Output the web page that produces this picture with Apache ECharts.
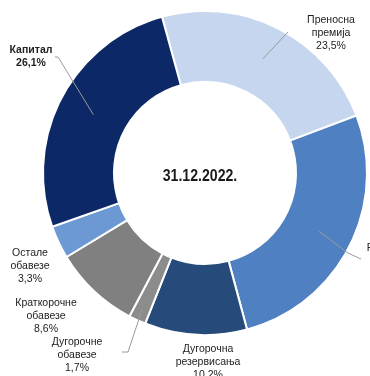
<!DOCTYPE html>
<html>
<head>
<meta charset="utf-8">
<script src="https://cdn.jsdelivr.net/npm/echarts@6/dist/echarts.min.js"></script>
<style>
  html, body { margin: 0; padding: 0; background: #fff; }
  #chart { width: 370px; height: 376px; }
</style>
</head>
<body>
<div id="chart"></div>
<script>
// Balance-sheet liabilities structure, shares in percent
const categories = [
  'Преносна\nпремија',
  'Резервисане\nштете',
  'Дугорочна\nрезервисања',
  'Дугорочне\nобавезе',
  'Краткорочне\nобавезе',
  'Остале\nобавезе',
  'Капитал'
];
const shares = [23.5, 26.6, 10.2, 1.7, 8.6, 3.3, 26.1];
const centerTitle = '31.12.2022.';

const colors = ['#c6d6ee', '#4f80c1', '#264b7b', '#8c8c8c', '#808080', '#6c99d4', '#0d2867'];

const CX = 205, CY = 173, R_IN = 91, R_OUT = 162;
const START = 105.4;
const FONT = '"Liberation Sans Narrow", "Liberation Sans", Arial, sans-serif';

// label placement: centre of text block, leader bend/end points, radius where the leader starts
const labelPos = [
  { x: 331, y: 33,  line: [[288, 32]], r: 128 },
  { x: 398, y: 261, line: [[348, 253], [361, 259]], r: 128 },
  { x: 208, y: 362, line: null },
  { x: 77,  y: 355, line: [[128, 352], [122, 352]], r: 150 },
  { x: 46,  y: 316, line: null },
  { x: 30,  y: 266, line: null },
  { x: 31,  y: 57,  line: [[58, 57], [55, 57]], r: 126 }
];

const fmt = v => v.toFixed(1).replace('.', ',') + '%';

// leader lines start at each slice's mid angle, following the pie's own angular layout
const total = shares.reduce((s, v) => s + v, 0);
const leaders = [];
let cum = 0;
shares.forEach((v, i) => {
  const mid = (START - 360 * (cum + v / 2) / total) * Math.PI / 180;
  cum += v;
  const pos = labelPos[i];
  if (!pos.line) return;
  const a = [CX + pos.r * Math.cos(mid), CY - pos.r * Math.sin(mid)];
  leaders.push({
    type: 'polyline',
    z: 50,
    silent: true,
    shape: { points: [a].concat(pos.line) },
    style: { stroke: '#9a9a9a', lineWidth: 1, fill: null }
  });
});

const data = categories.map((name, i) => ({
  name: name,
  value: shares[i],
  itemStyle: { color: colors[i] },
  label: { fontWeight: i === 6 ? 'bold' : 'normal' }
}));

const chart = echarts.init(document.getElementById('chart'), null, { renderer: 'canvas' });

chart.setOption({
  animation: false,
  backgroundColor: '#ffffff',
  graphic: [{
    type: 'text',
    x: 200, y: 176,
    scaleX: 0.83,
    z: 100,
    style: {
      text: centerTitle,
      align: 'center', verticalAlign: 'middle',
      font: 'bold 17px ' + FONT,
      fill: '#1a1a1a'
    }
  }].concat(leaders),
  series: [{
    type: 'pie',
    center: [CX, CY],
    radius: [R_IN, R_OUT],
    startAngle: START,
    clockwise: true,
    avoidLabelOverlap: false,
    silent: true,
    itemStyle: { borderColor: '#ffffff', borderWidth: 2 },
    label: {
      show: true,
      position: 'outside',
      formatter: p => p.name + '\n' + fmt(p.value),
      fontFamily: FONT,
      fontSize: 10.5,
      lineHeight: 13,
      color: '#222222',
      align: 'center'
    },
    labelLine: { show: false },
    labelLayout: function (params) {
      const pos = labelPos[params.dataIndex];
      return { x: pos.x, y: pos.y, align: 'center', verticalAlign: 'middle' };
    },
    data: data
  }]
});
</script>
</body>
</html>
